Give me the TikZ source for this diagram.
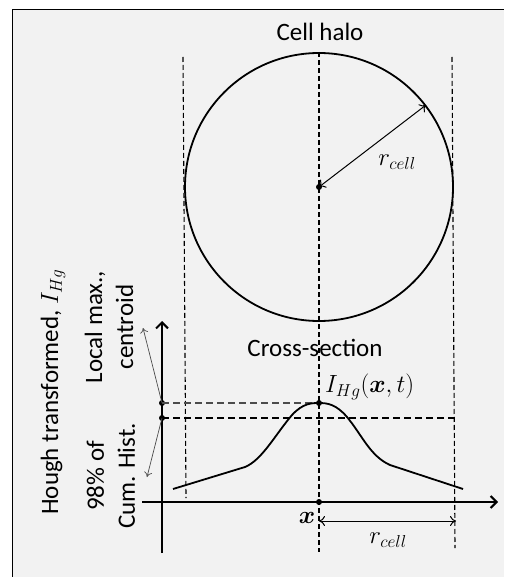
\documentclass[tikz,border=0pt]{standalone}
\usepackage{fontspec}
\setmainfont{Carlito}
\usepackage{amsmath}
\usepackage{bm}
\usetikzlibrary{arrows.meta}
\definecolor{bgc}{HTML}{F2F2F2}
\begin{document}
\begin{tikzpicture}[x=1pt,y=-1pt,
  lbl/.style={font=\fontsize{25}{31}\selectfont, inner sep=0pt},
  mlbl/.style={font=\fontsize{26.5}{31}\selectfont, inner sep=0pt},
  dsh/.style={dashed, dash pattern=on 5pt off 3pt, line width=1.1pt},
  thinarr/.style={draw=black!70, line width=0.7pt, -{To[length=5pt,width=8pt]}},
  rarr/.style={line width=1pt, {To[length=6pt,width=10pt]}-{To[length=6pt,width=10pt]}},
  axis/.style={line width=2.6pt, -{Straight Barb[length=6pt,width=12pt,line width=2pt]}},
  dotn/.style={circle, fill=black, inner sep=0pt, minimum size=6pt}
]
\useasboundingbox (0,0) rectangle (504,577);
\fill[bgc] (12,9) rectangle (504,577);
\draw[line width=1.5pt] (12.5,577) -- (12.5,9.5) -- (504,9.5);

% coordinates
\coordinate (lt) at (183,57);  \coordinate (lb) at (186,498);
\coordinate (ct) at (319,52);  \coordinate (cb) at (319,552);
\coordinate (rt) at (452,57);  \coordinate (rb) at (455,548);
\coordinate (yb) at (162,553); \coordinate (ytop) at (162,321);
\coordinate (xl) at (142,502); \coordinate (xr) at (498,502);
\coordinate (h2r) at (456,418);
\coordinate (cp) at (426,105);
\coordinate (a1) at (143,328); \coordinate (a2) at (147,477);
\coordinate (rb1) at (319,521); \coordinate (rb2) at (456,521);

% dashed verticals
\draw[dsh] (lt) -- (lb);
\draw[dsh] (ct) -- (cb);
\draw[dsh] (rt) -- (rb);

% circle
\node[circle, draw, line width=1.8pt, minimum size=268pt, inner sep=0pt] (halo) at (319,187) {};
\node[dotn] (c) at (319,187) {};
\draw[rarr] (cp) -- (c.center);
\node[mlbl] (rcell1) at (397,162) {$r_{cell}$};
\node[lbl] (title) at (320,32) {Cell halo};

% axes
\draw[axis] (yb) -- (ytop);
\draw[axis] (xl) -- (xr);

% dots
\node[dotn] (d1) at (162,403) {};
\node[dotn] (d2) at (162,418) {};
\node[dotn] (pk) at (319,403) {};
\node[dotn] (x0) at (319,502) {};

% horizontal dashed
\draw[dsh, draw=black!70, dash pattern=on 7pt off 4pt] (d1.center) -- (pk.center);
\draw[dsh, dash pattern=on 7pt off 4pt] (d2.center) -- (h2r);

% curve
\draw[line width=1.8pt] (173,489) -- (245,467)
  .. controls (262,460) and (275,435) .. (292,415)
  .. controls (303,403) and (312,403) .. (319,403)
  .. controls (327,403) and (336,404) .. (347,417)
  .. controls (362,435) and (370,456) .. (390,465) -- (463,489);

% thin arrows
\draw[thinarr] (d1.center) -- (a1);
\draw[thinarr] (d2.center) -- (a2);

% r_cell bottom
\draw[rarr] (rb1) -- (rb2);
\node[mlbl] (rcell2) at (388,540) {$r_{cell}$};
\node[mlbl] (xlab) at (307,518) {$\bm{x}$};
\node[mlbl, anchor=west] (ihg) at (325,387) {$I_{Hg}(\bm{x},t)$};
\node[lbl] (cs) at (315,348) {Cross-section};

% rotated labels
\node[lbl, rotate=90] (hough) at (53,392) {Hough transformed, $I_{Hg}$};
\node[lbl, rotate=90, align=center] (lmax) at (109,327) {Local max.,\\centroid};
\node[lbl, rotate=90, align=center] (cum) at (111,476) {98\% of\\Cum. Hist.};
\end{tikzpicture}
\end{document}
